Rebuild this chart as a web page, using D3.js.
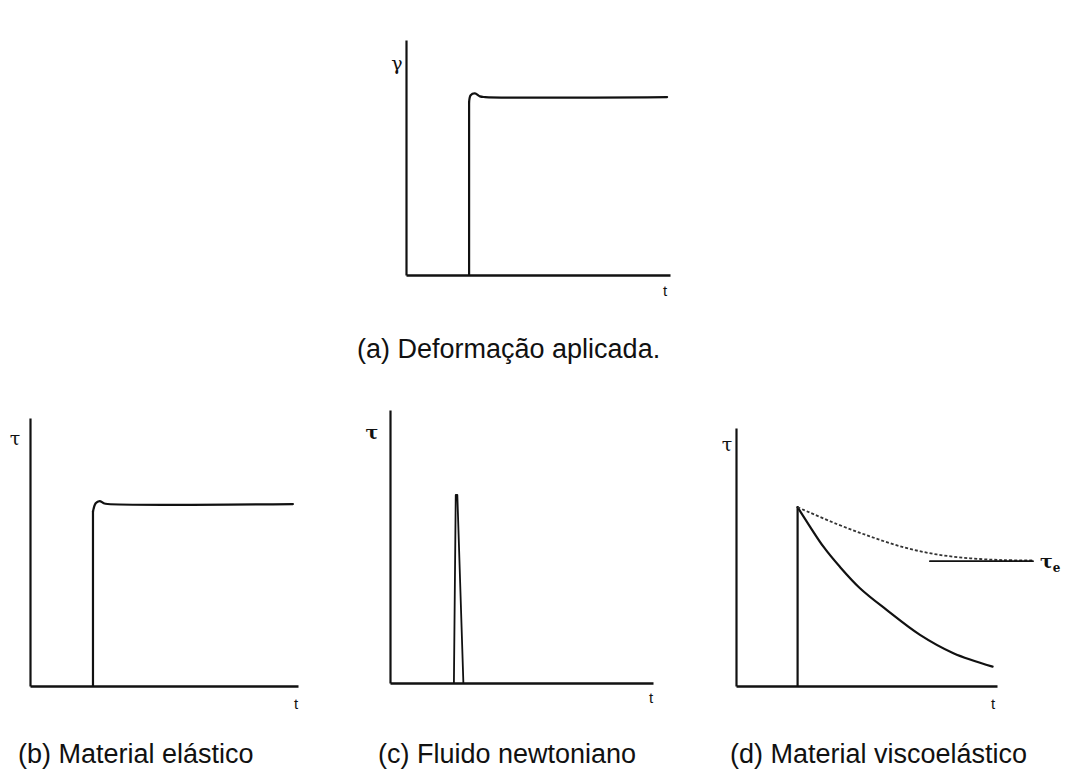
<!DOCTYPE html>
<html>
<head>
<meta charset="utf-8">
<script src="https://cdn.jsdelivr.net/npm/d3@7"></script>
<style>
  body { margin: 0; background: #fff; }
  svg { display: block; }
  .cap { font-family: "Liberation Sans", Arial, sans-serif; font-size: 27px; fill: #111; }
  .tl { font-family: "Liberation Sans", Arial, sans-serif; font-size: 15px; fill: #111; }
  .gl { font-family: "DejaVu Serif", "Liberation Serif", serif; font-size: 19px; fill: #111; }
</style>
</head>
<body>
<svg width="1065" height="771"></svg>
<script>
// captions and axis symbols
var captions = ["(a) Deformação aplicada.", "(b) Material elástico", "(c) Fluido newtoniano", "(d) Material viscoelástico"];
var yLabels = ["γ", "τ", "τ", "τ"];

// (a) applied strain step: rise at stepA, then small overshoot and plateau
var stepA = 2.39;
var strainT = [2.39, 2.45, 2.61, 2.8, 3.0, 9.89];
var strainV = [7.36, 7.65, 7.73, 7.6, 7.57, 7.57];

// (b) elastic response
var stepB = 2.35;
var elasticT = [2.36, 2.45, 2.6, 2.75, 2.9, 9.81];
var elasticV = [6.5, 6.82, 6.9, 6.82, 6.79, 6.79];

// (c) newtonian spike
var newtonT = [2.43, 2.5, 2.56, 2.79];
var newtonV = [0, 6.89, 6.89, 0];

// (d) viscoelastic relaxation
var viscoT = [2.36, 2.84, 3.35, 3.98, 4.75, 5.77, 7.05, 8.33, 9.83];
var viscoV = [6.93, 6.17, 5.40, 4.62, 3.79, 2.95, 1.98, 1.27, 0.75];
var envT = [2.36, 3.86, 5.13, 6.41, 7.69, 8.97, 10.24, 11.39];
var envV = [6.93, 6.28, 5.80, 5.38, 5.10, 4.95, 4.88, 4.87];
var tauET = [7.43, 11.38];
var tauEV = 4.84;

var svg = d3.select("svg");

// panel frames (pixel layout only)
var panels = [
  { x0: 406, x1: 670, y0: 275, y1: 40 },
  { x0: 30, x1: 298, y0: 686, y1: 418 },
  { x0: 390, x1: 653, y0: 683, y1: 410 },
  { x0: 736, x1: 997, y0: 686, y1: 428 }
];

function zip(ts, vs) {
  return ts.map(function(t, i) { return [t, vs[i]]; });
}

panels.forEach(function(p, i) {
  p.x = d3.scaleLinear().domain([0, 10]).range([p.x0, p.x1]);
  p.y = d3.scaleLinear().domain([0, 10]).range([p.y0, p.y1]);

  var g = svg.append("g");
  g.append("g")
    .attr("transform", "translate(0," + p.y0 + ")")
    .call(d3.axisBottom(p.x).ticks(0).tickSizeOuter(0))
    .select(".domain").attr("stroke", "#111").attr("stroke-width", 2.6);
  g.append("g")
    .attr("transform", "translate(" + p.x0 + ",0)")
    .call(d3.axisLeft(p.y).ticks(0).tickSizeOuter(0))
    .select(".domain").attr("stroke", "#111").attr("stroke-width", 2.2);
  p.g = g;
});

function line(p, curve) {
  return d3.line()
    .x(function(d) { return p.x(d[0]); })
    .y(function(d) { return p.y(d[1]); })
    .curve(curve || d3.curveLinear);
}

function draw(p, pts, curve, w) {
  return p.g.append("path")
    .attr("d", line(p, curve)(pts))
    .attr("fill", "none")
    .attr("stroke", "#111")
    .attr("stroke-width", w || 2)
    .attr("stroke-linejoin", "round")
    .attr("stroke-linecap", "round");
}

var smooth = d3.curveCatmullRom.alpha(0.5);

draw(panels[0], [[stepA, 0], [stepA, strainV[0]]], d3.curveLinear, 2.2);
draw(panels[0], zip(strainT, strainV), smooth, 2.2);

draw(panels[1], [[stepB, 0], [stepB, elasticV[0]]], d3.curveLinear, 2.2);
draw(panels[1], [[stepB, elasticV[0]]].concat(zip(elasticT, elasticV).slice(1)), smooth, 2.2);

draw(panels[2], zip(newtonT, newtonV), d3.curveLinear, 1.8);

var pd = panels[3];
draw(pd, [[viscoT[0], 0], [viscoT[0], viscoV[0]]], d3.curveLinear, 2.2);
draw(pd, zip(viscoT, viscoV), smooth, 2.2);
draw(pd, zip(envT, envV), smooth, 1.8)
  .attr("stroke", "#333")
  .attr("stroke-linecap", "butt")
  .attr("stroke-dasharray", "3,2");
draw(pd, [[tauET[0], tauEV], [tauET[1], tauEV]], d3.curveLinear, 1.8);

// axis symbols
var yLabPos = [[397, 70], [15, 445], [372, 439], [727, 451]];
var tLabPos = [[665, 296], [296, 709], [651, 703], [993, 709]];
panels.forEach(function(p, i) {
  p.g.append("text").attr("class", "gl")
    .attr("x", yLabPos[i][0]).attr("y", yLabPos[i][1])
    .attr("text-anchor", "middle")
    .style("font-weight", i === 2 ? "bold" : "normal")
    .text(yLabels[i]);
  p.g.append("text").attr("class", "tl")
    .attr("x", tLabPos[i][0]).attr("y", tLabPos[i][1])
    .attr("text-anchor", "middle")
    .text("t");
});

var te = pd.g.append("text").attr("class", "gl")
  .attr("x", 1040).attr("y", 568)
  .style("font-weight", "bold");
te.append("tspan").text("τ");
te.append("tspan").attr("dy", 4).style("font-size", "12px").text("e");

// captions
var capPos = [[357, 358], [18, 763], [378, 763], [730, 763]];
svg.selectAll("text.cap")
  .data(captions)
  .enter()
  .append("text")
  .attr("class", "cap")
  .attr("x", function(d, i) { return capPos[i][0]; })
  .attr("y", function(d, i) { return capPos[i][1]; })
  .text(function(d) { return d; });
</script>
</body>
</html>
